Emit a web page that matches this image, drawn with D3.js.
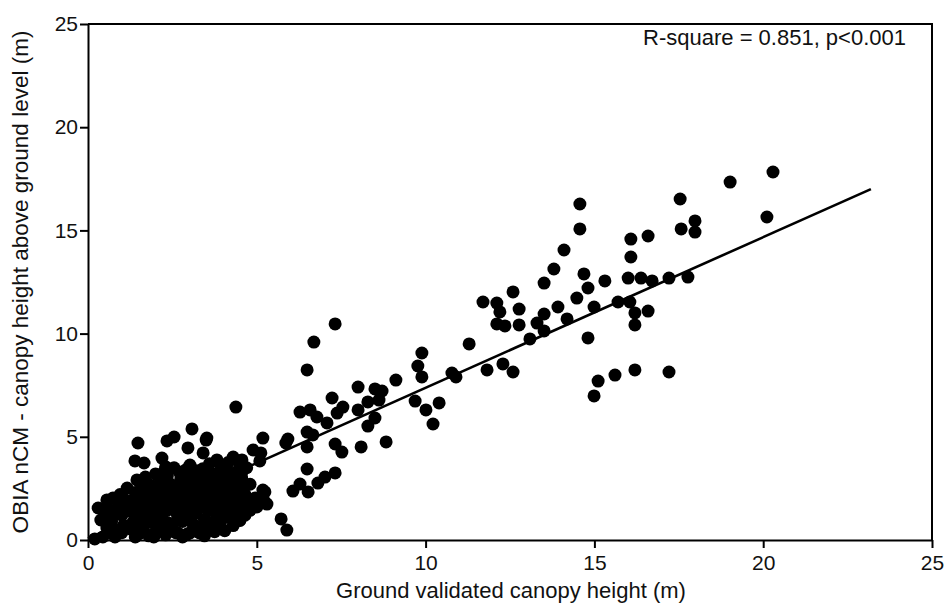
<!DOCTYPE html>
<html>
<head>
<meta charset="utf-8">
<script src="https://cdn.jsdelivr.net/npm/d3@7"></script>
<style>
  body { margin: 0; background: #fff; }
  text { font-family: "Liberation Sans", Arial, sans-serif; fill: #111; }
</style>
</head>
<body>
<script>
// axis ticks
var xTicks = [0, 5, 10, 15, 20, 25];
var yTicks = [0, 5, 10, 15, 20, 25];

// fitted regression line (start, end)
var fitLine = [[0, 0.08], [23.19, 17.0]];
var statsLabel = "R-square = 0.851, p<0.001";

// [ground validated height, OBIA nCM height] -- dense low cluster
var clusterPoints = [
  [0.2,0.05],[0.30,1.55],[0.56,1.94],[0.74,2.03],[1.16,2.52],[0.44,0.15],[0.56,0.58],
  [0.5,1.1],[0.65,1.4],[0.7,0.9],[0.85,0.4],[0.9,1.7],[1.0,1.2],[1.05,0.7],[1.1,1.95],
  [0.8,0.15],[0.95,2.2],[0.38,0.97],[0.65,0.5],[0.55,1.6],[0.8,1.25],[1.0,0.35],[1.15,1.55],
  [1.5,0.3],[1.8,0.2],[2.0,0.4],[2.3,0.25],[2.6,0.35],[2.95,0.3],[3.3,0.35],[3.6,0.6],[1.3,0.5],[2.15,0.6],
  [1.35,0.9],[1.6,0.7],[1.9,0.85],[2.2,1.0],[2.5,0.75],[2.8,0.9],[3.1,0.8],[3.45,1.0],[3.9,0.75],[4.2,1.1],[4.5,0.95],
  [1.25,1.4],[1.55,1.2],[1.75,1.5],[2.05,1.3],[2.35,1.45],[2.65,1.2],[2.9,1.5],[3.2,1.3],[3.55,1.45],[3.8,1.25],
  [4.1,1.5],[4.4,1.35],[4.8,1.45],[5.0,1.6],
  [1.3,1.9],[1.6,1.75],[1.85,2.0],[2.1,1.8],[2.4,1.95],[2.7,1.7],[3.0,1.95],[3.3,1.75],[3.6,2.0],[3.9,1.8],
  [4.2,1.95],[4.5,1.7],[4.75,1.9],
  [1.4,2.3],[1.7,2.45],[1.95,2.2],[2.25,2.4],[2.55,2.25],[2.85,2.5],[3.15,2.2],[3.45,2.45],[3.75,2.3],[4.05,2.5],
  [4.35,2.25],[4.6,2.45],
  [1.55,2.8],[1.85,2.65],[2.15,2.9],[2.45,2.7],[2.75,2.95],[3.05,2.7],[3.35,2.9],[3.65,2.75],[3.95,3.0],[4.25,2.8],[4.55,3.0],
  [2.0,3.2],[2.35,3.1],[2.7,3.3],[3.05,3.15],[3.4,3.45],[3.75,3.2],[4.1,3.4],[4.4,3.3],[4.7,3.5],[2.55,3.5],
  [3.02,3.63],[3.82,3.88],[4.30,4.02],[4.56,3.88],[3.95,3.6],[4.15,3.75],[2.3,3.55],
  [1.45,2.91],[4.95,2.03],[4.80,1.45],[4.50,0.97],[3.91,0.73],[3.32,0.34],[3.02,0.34],[2.67,0.34],
  [1.48,4.70],[2.34,4.80],[2.55,4.99],[1.39,3.83],[1.66,3.73],[2.19,3.97],[3.08,5.38],[3.52,4.94],
  [2.96,4.46],[3.41,4.22],[4.38,6.44],[3.50,4.84],
  [1.4,0.15],[1.65,0.45],[1.95,0.15],[2.45,0.5],[2.8,0.15],[3.15,0.55],[3.45,0.2],[3.75,0.4],[4.05,0.45],[4.3,0.7],
  [1.45,1.05],[1.75,1.15],[2.05,0.7],[2.35,0.85],[2.65,0.95],[2.95,1.1],[3.3,0.65],[3.65,0.85],[4.0,1.05],[4.35,0.9],[4.65,1.2],
  [1.45,1.6],[1.95,1.6],[2.25,1.65],[2.55,1.55],[2.8,1.3],[3.1,1.6],[3.45,1.6],[3.75,1.6],[4.0,1.3],[4.3,1.6],[4.6,1.55],
  [1.5,2.05],[1.75,2.15],[2.0,2.05],[2.3,2.15],[2.55,2.0],[2.85,2.1],[3.15,2.05],[3.45,2.1],[3.75,2.05],[4.05,2.15],[4.35,2.05],[4.65,2.2],
  [1.65,2.55],[2.05,2.6],[2.35,2.55],[2.65,2.55],[2.95,2.3],[3.25,2.6],[3.55,2.55],[3.85,2.6],[4.15,2.6],[4.45,2.6],[4.8,2.7],
  [1.7,3.05],[2.25,3.3],[2.9,3.4],[3.2,3.35],[3.55,3.1],[3.9,3.3],[4.25,3.1],[4.55,3.25],[3.6,3.7],[4.5,3.6]
];

// points between 5 and 10 m
var midPoints = [
  [5.18,4.94],[4.89,4.36],[5.12,4.22],[5.09,3.83],[5.18,2.42],[5.24,2.33],[5.30,1.74],[5.24,1.84],
  [5.72,1.02],[5.89,0.48],[5.92,4.89],[5.86,4.70],[6.28,2.71],[6.07,2.37],[6.52,2.33],[6.81,2.76],
  [7.02,3.05],[7.32,3.25],[6.49,3.44],[6.49,4.51],[7.32,4.65],[7.52,4.26],[8.09,4.51],[8.83,4.75],
  [6.49,5.23],[6.66,5.09],[6.78,5.96],[7.08,5.67],[7.38,6.15],[7.55,6.44],[8.50,5.91],[8.29,5.52],
  [6.28,6.20],[6.58,6.30],[8.29,6.69],[8.62,6.78],[8.00,6.30],[7.23,6.88],[8.00,7.41],[8.50,7.32],
  [8.71,7.22],[9.12,7.75],[6.49,8.24],[6.69,9.59],[7.32,10.47],[9.69,6.73],[10.01,6.30],[10.40,6.64],
  [10.22,5.62],[9.89,7.90],[9.77,8.43],[9.89,9.06]
];

// points above 10 m
var highPoints = [
  [10.78,8.09],[10.90,7.90],[11.29,9.50],[11.82,8.24],[12.29,8.53],[12.59,8.14],[12.59,12.02],
  [11.70,11.53],[12.11,11.48],[12.20,11.05],[12.77,11.19],[12.11,10.47],[12.35,10.37],[12.77,10.42],
  [13.30,10.51],[13.51,10.95],[13.51,10.13],[13.92,11.29],[14.19,10.71],[14.48,11.72],[14.99,11.29],
  [13.09,9.74],[14.81,9.79],[13.51,12.45],[13.80,13.13],[14.10,14.05],[14.69,12.89],[14.81,12.21],
  [15.31,12.55],[16.00,12.69],[16.38,12.69],[16.71,12.55],[17.21,12.69],[17.77,12.74],[15.70,11.53],
  [16.05,11.53],[16.20,11.00],[16.59,11.09],[16.20,10.42],[15.11,7.70],[14.99,6.98],[15.61,7.99],
  [16.20,8.24],[17.21,8.14],[14.57,16.28],[14.57,15.07],[16.08,14.58],[16.59,14.73],[16.08,13.71],
  [17.54,16.52],[17.57,15.07],[17.98,15.46],[17.98,14.92],[19.02,17.34],[20.29,17.83],[20.11,15.65]
];

var margin = {top: 24, right: 17, bottom: 67, left: 88},
    width = 949 - margin.left - margin.right,
    height = 607 - margin.top - margin.bottom;

var x = d3.scaleLinear().domain([0, 25]).range([0, width]);
var y = d3.scaleLinear().domain([0, 25]).range([height, 0]);

var svg = d3.select("body").append("svg")
    .attr("width", 949)
    .attr("height", 607);

var g = svg.append("g")
    .attr("transform", "translate(" + margin.left + "," + margin.top + ")");

// frame (top and right edges)
g.append("path")
    .attr("d", "M0,0H" + width + "V" + height)
    .attr("fill", "none")
    .attr("stroke", "#000")
    .attr("stroke-width", 2);

var allPoints = clusterPoints.concat(midPoints, highPoints);

g.selectAll("circle.pt")
    .data(allPoints)
  .enter().append("circle")
    .attr("class", "pt")
    .attr("cx", function(d) { return x(d[0]); })
    .attr("cy", function(d) { return y(d[1]); })
    .attr("r", 6.5)
    .attr("fill", "#000");

// regression line
g.append("path")
    .datum(fitLine)
    .attr("fill", "none")
    .attr("stroke", "#000")
    .attr("stroke-width", 2.6)
    .attr("d", d3.line()
        .x(function(d) { return x(d[0]); })
        .y(function(d) { return y(d[1]); }));

// x axis
var xAxis = g.append("g")
    .attr("transform", "translate(0," + height + ")")
    .call(d3.axisBottom(x).tickValues(xTicks).tickSize(8).tickPadding(7).tickSizeOuter(0));

// y axis
var yAxis = g.append("g")
    .call(d3.axisLeft(y).tickValues(yTicks).tickSize(8).tickPadding(2).tickSizeOuter(0));

[xAxis, yAxis].forEach(function(a) {
  a.select(".domain").attr("stroke-width", 2);
  a.selectAll(".tick line").attr("stroke-width", 2);
  a.selectAll(".tick text")
      .style("font-family", "'Liberation Sans', Arial, sans-serif")
      .style("font-size", "21px")
      .attr("fill", "#111");
});

// axis titles
svg.append("text")
    .attr("x", 511)
    .attr("y", 598)
    .attr("text-anchor", "middle")
    .style("font-size", "22px")
    .text("Ground validated canopy height (m)");

svg.append("text")
    .attr("transform", "translate(28,282) rotate(-90)")
    .attr("text-anchor", "middle")
    .style("font-size", "22.5px")
    .text("OBIA nCM - canopy height above ground level (m)");

// stats annotation
g.append("text")
    .attr("x", width - 26)
    .attr("y", 21)
    .attr("text-anchor", "end")
    .style("font-size", "22px")
    .text(statsLabel);
</script>
</body>
</html>
